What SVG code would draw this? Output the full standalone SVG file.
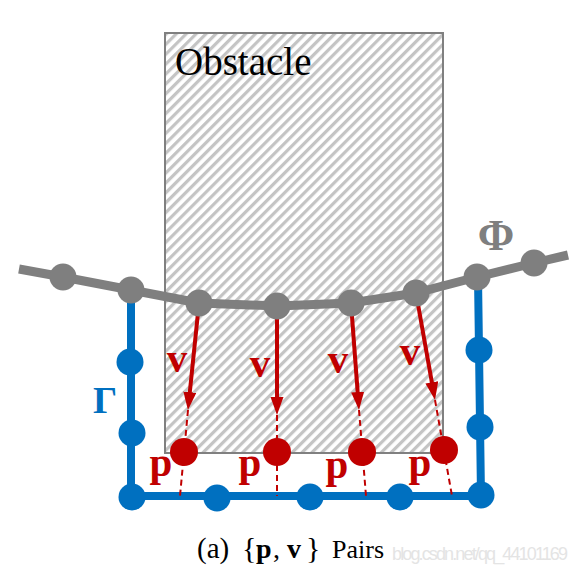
<svg xmlns="http://www.w3.org/2000/svg" width="579" height="576" viewBox="0 0 579 576">
<style>
.serif{font-family:"Liberation Serif","Times New Roman",serif}
.red{fill:#C00000;font-weight:bold;font-size:41px;text-anchor:middle}
.gnode{fill:#7F7F7F}
.bnode{fill:#0070C0}
.rnode{fill:#C00000}
.arrow{stroke:#C00000;stroke-width:4;fill:none}
.dash{stroke:#C00000;stroke-width:2;stroke-dasharray:6 4;fill:none}
</style>
<defs>
<pattern id="hatch" width="7" height="7" patternUnits="userSpaceOnUse" patternTransform="rotate(45)">
<rect width="7" height="7" fill="#ffffff"/>
<line x1="1.6" y1="0" x2="1.6" y2="7" stroke="#c4c4c4" stroke-width="3.2"/>
</pattern>
<marker id="ah" markerUnits="userSpaceOnUse" markerWidth="19" markerHeight="14" refX="6" refY="6.5" orient="auto">
<path d="M0,0 L18,6.5 L0,13 z" fill="#C00000"/>
</marker>
</defs>
<rect width="579" height="576" fill="#ffffff"/>

<g id="obstacle">
<rect x="165" y="33" width="278" height="420" fill="url(#hatch)" stroke="#808080" stroke-width="2"/>
<text class="serif" x="175" y="75" font-size="39" fill="#000">Obstacle</text>
</g>

<g id="connectors">
<polyline id="gamma-line" points="131,290 131,496 481,496 478,277" fill="none" stroke="#0070C0" stroke-width="8" stroke-linejoin="miter"/>
<polyline id="phi-line" points="19,269 63,277 131,290 199,303 277,306 351,303 416,293 477,277 534,263 568,255" fill="none" stroke="#7F7F7F" stroke-width="9" stroke-linejoin="round"/>
<line class="dash" x1="188" y1="410" x2="180" y2="496"/>
<line class="dash" x1="277" y1="415" x2="277" y2="496"/>
<line class="dash" x1="359" y1="410" x2="366" y2="496"/>
<line class="dash" x1="435" y1="400" x2="452" y2="496"/>
<line class="arrow" x1="199" y1="303" x2="189.2" y2="398.1" marker-end="url(#ah)"/>
<line class="arrow" x1="277" y1="306" x2="277" y2="403" marker-end="url(#ah)"/>
<line class="arrow" x1="351" y1="303" x2="358.1" y2="398" marker-end="url(#ah)"/>
<line class="arrow" x1="416" y1="293" x2="432.9" y2="388.2" marker-end="url(#ah)"/>
</g>

<g id="gamma-nodes">
<circle class="bnode" cx="130" cy="362" r="13.5"/>
<circle class="bnode" cx="132" cy="433" r="13.5"/>
<circle class="bnode" cx="132" cy="497" r="13.5"/>
<circle class="bnode" cx="217" cy="498" r="13.5"/>
<circle class="bnode" cx="310" cy="497" r="13.5"/>
<circle class="bnode" cx="400" cy="497" r="13.5"/>
<circle class="bnode" cx="481" cy="495" r="13.5"/>
<circle class="bnode" cx="480" cy="427" r="13.5"/>
<circle class="bnode" cx="479" cy="350" r="13.5"/>
</g>

<g id="phi-nodes">
<circle class="gnode" cx="63" cy="277" r="13.5"/>
<circle class="gnode" cx="131" cy="290" r="13.5"/>
<circle class="gnode" cx="199" cy="303" r="13.5"/>
<circle class="gnode" cx="277" cy="306" r="13.5"/>
<circle class="gnode" cx="351" cy="303" r="13.5"/>
<circle class="gnode" cx="416" cy="293" r="13.5"/>
<circle class="gnode" cx="477" cy="277" r="13.5"/>
<circle class="gnode" cx="534" cy="263" r="13.5"/>
</g>

<g id="p-nodes">
<circle class="rnode" cx="184" cy="452" r="14"/>
<circle class="rnode" cx="277" cy="452" r="14"/>
<circle class="rnode" cx="362" cy="452" r="14"/>
<circle class="rnode" cx="444" cy="450" r="14"/>
</g>

<g id="labels">
<text class="serif" x="496" y="250" font-size="44" font-weight="bold" fill="#7F7F7F" text-anchor="middle">Φ</text>
<text class="serif" x="105" y="413" font-size="38" font-weight="bold" fill="#0070C0" text-anchor="middle">Γ</text>
<text class="serif red" x="177" y="372">v</text>
<text class="serif red" x="260" y="377">v</text>
<text class="serif red" x="338" y="373">v</text>
<text class="serif red" x="410" y="365">v</text>
<text class="serif red" x="161" y="476">p</text>
<text class="serif red" x="250" y="476">p</text>
<text class="serif red" x="337" y="478">p</text>
<text class="serif red" x="420" y="476">p</text>
</g>

<g id="caption">
<text x="392" y="560" font-family="Liberation Sans, Arial, sans-serif" font-size="18" fill="#e4e4e4" textLength="176">blog.csdn.net/qq_44101169</text>
<text class="serif" y="558" fill="#000"><tspan x="197" font-size="29">(a)</tspan><tspan x="242" font-size="30">{</tspan><tspan x="256" font-size="28" font-weight="bold">p</tspan><tspan x="273" font-size="28">,</tspan><tspan x="287" font-size="28" font-weight="bold">v</tspan><tspan x="306" font-size="30">}</tspan><tspan x="332" font-size="26">Pairs</tspan></text>
</g>
</svg>
